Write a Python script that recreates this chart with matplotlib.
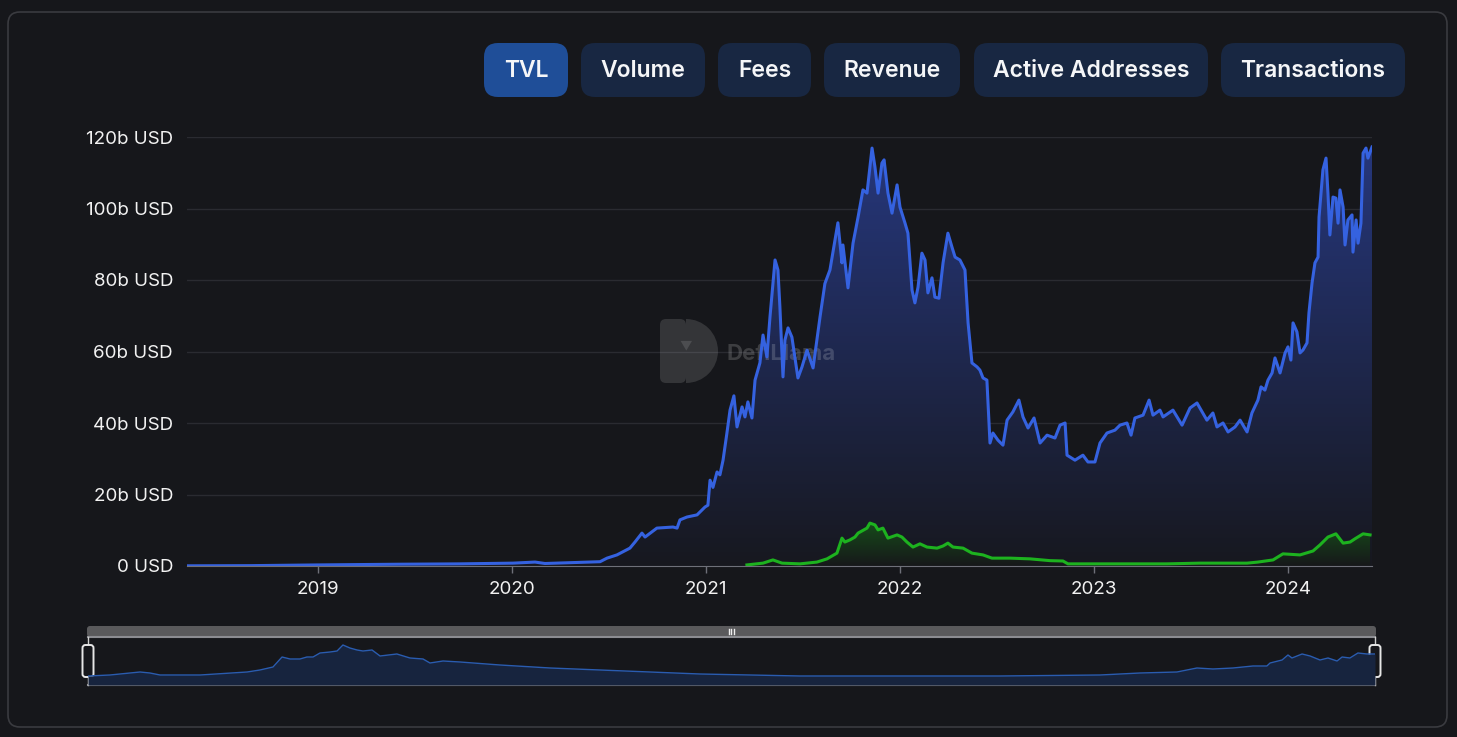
import numpy as np
import matplotlib
matplotlib.use("Agg")
import matplotlib.pyplot as plt
from matplotlib.patches import FancyBboxPatch, Wedge
from matplotlib.colors import to_rgba

plt.rcParams['font.family'] = ['Inter', 'DejaVu Sans']

# ---- data (decimal years, values in billions USD) ----
tvl_t = [2018.325, 2018.649, 2019.000, 2019.423, 2019.732, 2020.005, 2020.119, 2020.170, 2020.351,
         2020.454, 2020.490, 2020.541, 2020.608, 2020.634, 2020.670, 2020.686, 2020.747, 2020.830,
         2020.851, 2020.866, 2020.902, 2020.954, 2020.995, 2021.010, 2021.021, 2021.036, 2021.057,
         2021.072, 2021.088, 2021.108, 2021.124, 2021.144, 2021.160, 2021.186, 2021.201, 2021.216,
         2021.237, 2021.253, 2021.278, 2021.294, 2021.314, 2021.330, 2021.356, 2021.371, 2021.381,
         2021.397, 2021.407, 2021.423, 2021.443, 2021.474, 2021.495, 2021.521, 2021.552, 2021.588,
         2021.613, 2021.639, 2021.680, 2021.701, 2021.706, 2021.732, 2021.758, 2021.784, 2021.809,
         2021.830, 2021.856, 2021.871, 2021.887, 2021.907, 2021.918, 2021.938, 2021.959, 2021.985,
         2022.000, 2022.026, 2022.041, 2022.062, 2022.077, 2022.093, 2022.113, 2022.129, 2022.144,
         2022.165, 2022.180, 2022.201, 2022.222, 2022.247, 2022.268, 2022.284, 2022.309, 2022.335,
         2022.351, 2022.371, 2022.397, 2022.412, 2022.428, 2022.448, 2022.464, 2022.479, 2022.505,
         2022.531, 2022.552, 2022.582, 2022.613, 2022.634, 2022.660, 2022.691, 2022.722, 2022.758,
         2022.799, 2022.825, 2022.851, 2022.861, 2022.902, 2022.943, 2022.969, 2023.005, 2023.031,
         2023.067, 2023.108, 2023.134, 2023.170, 2023.191, 2023.211, 2023.253, 2023.284, 2023.304,
         2023.340, 2023.356, 2023.407, 2023.454, 2023.495, 2023.531, 2023.582, 2023.613, 2023.634,
         2023.665, 2023.691, 2023.727, 2023.753, 2023.789, 2023.814, 2023.845, 2023.861, 2023.881,
         2023.897, 2023.918, 2023.933, 2023.959, 2023.985, 2024.000, 2024.015, 2024.026, 2024.046,
         2024.062, 2024.077, 2024.098, 2024.108, 2024.124, 2024.139, 2024.155, 2024.160, 2024.180,
         2024.196, 2024.206, 2024.216, 2024.232, 2024.247, 2024.258, 2024.268, 2024.284, 2024.294,
         2024.309, 2024.330, 2024.335, 2024.351, 2024.361, 2024.376, 2024.387, 2024.402, 2024.412,
         2024.433]
tvl_v = [0.05, 0.1, 0.3, 0.5, 0.6, 0.8, 1.1, 0.7, 1.0,
         1.2, 2.2, 3.1, 5.0, 6.7, 9.2, 8.1, 10.6, 10.9,
         10.6, 12.9, 13.7, 14.3, 16.5, 17.0, 24.0, 22.0, 26.3,
         25.5, 29.6, 37.2, 43.6, 47.6, 38.9, 44.5, 41.7, 45.9,
         41.4, 52.0, 56.8, 64.6, 58.5, 69.7, 85.6, 82.8, 72.5,
         52.9, 63.2, 66.6, 64.0, 52.6, 55.7, 60.4, 55.4, 69.7,
         79.0, 82.8, 96.0, 84.8, 89.8, 77.8, 90.3, 97.6, 105.2,
         104.3, 116.9, 111.6, 104.3, 112.7, 113.6, 104.3, 98.7, 106.6,
         100.4, 95.9, 93.1, 77.2, 73.6, 78.0, 87.5, 85.6, 76.4,
         80.6, 75.2, 74.9, 84.8, 93.1, 89.2, 86.4, 85.6, 82.8,
         68.0, 56.8, 55.7, 54.8, 52.6, 52.0, 34.4, 37.2, 35.2,
         33.8, 40.8, 43.1, 46.4, 41.7, 38.6, 41.4, 34.4, 36.6,
         35.8, 39.4, 40.0, 31.0, 29.6, 31.0, 29.1, 29.1, 34.4,
         37.2, 38.0, 39.4, 40.0, 36.6, 41.4, 42.2, 46.4, 42.2,
         43.6, 41.7, 43.6, 39.4, 44.2, 45.6, 40.8, 42.8, 38.9,
         40.0, 37.5, 38.9, 40.8, 37.5, 42.8, 46.4, 50.1, 49.2,
         52.0, 54.0, 58.2, 54.0, 59.6, 61.3, 57.6, 68.0, 65.5,
         59.6, 60.4, 62.4, 70.8, 79.2, 84.8, 86.4, 97.6, 110.8,
         114.1, 104.3, 92.6, 103.2, 102.9, 95.9, 105.2, 100.4, 89.8,
         96.8, 98.2, 87.8, 96.8, 90.3, 95.9, 115.5, 116.9, 114.1,
         117.2]

second_t = [2021.211, 2021.294, 2021.345, 2021.392, 2021.485, 2021.572, 2021.624, 2021.675, 2021.701,
            2021.716, 2021.742, 2021.768, 2021.784, 2021.830, 2021.845, 2021.871, 2021.887, 2021.912,
            2021.938, 2021.985, 2022.010, 2022.036, 2022.067, 2022.103, 2022.139, 2022.191, 2022.222,
            2022.247, 2022.273, 2022.325, 2022.371, 2022.428, 2022.474, 2022.567, 2022.670, 2022.773,
            2022.840, 2022.866, 2023.031, 2023.376, 2023.546, 2023.789, 2023.845, 2023.923, 2023.974,
            2024.062, 2024.129, 2024.165, 2024.206, 2024.247, 2024.284, 2024.320, 2024.345, 2024.387,
            2024.423]
second_v = [0.3, 0.8, 1.7, 0.8, 0.6, 1.1, 2.0, 3.6, 7.8,
            6.7, 7.3, 8.1, 9.2, 10.6, 12.0, 11.5, 10.1, 10.6,
            7.8, 8.7, 8.1, 6.7, 5.3, 6.2, 5.3, 5.0, 5.6,
            6.4, 5.3, 5.0, 3.6, 3.1, 2.2, 2.2, 2.0, 1.5,
            1.4, 0.6, 0.6, 0.6, 0.8, 0.8, 1.1, 1.7, 3.4,
            3.1, 4.2, 5.9, 8.1, 9.0, 6.4, 6.7, 7.6, 9.0,
            8.7]

overview_t = [2018.325, 2018.429, 2018.572, 2018.619, 2018.667, 2018.857, 2019.080, 2019.141, 2019.203,
              2019.246, 2019.284, 2019.331, 2019.364, 2019.393, 2019.426, 2019.474, 2019.507, 2019.535,
              2019.568, 2019.602, 2019.630, 2019.673, 2019.711, 2019.791, 2019.853, 2019.915, 2019.948,
              2020.010, 2020.091, 2020.280, 2020.518, 2020.755, 2020.992, 2021.229, 2021.467, 2021.704,
              2022.179, 2022.653, 2023.128, 2023.318, 2023.493, 2023.588, 2023.664, 2023.759, 2023.854,
              2023.920, 2023.935, 2023.992, 2024.020, 2024.039, 2024.087, 2024.125, 2024.172, 2024.210,
              2024.253, 2024.277, 2024.314, 2024.352, 2024.395, 2024.433]
overview_v = [9, 10, 13, 12, 10, 10, 13, 15, 18,
              28, 26, 26, 28, 28, 32, 33, 34, 40,
              37, 35, 34, 35, 29, 31, 27, 26, 22,
              24, 23, 20, 17, 15, 13, 11, 10, 9,
              9, 9, 10, 12, 13, 17, 16, 17, 19,
              19, 22, 25, 30, 27, 31, 29, 25, 27,
              24, 28, 27, 32, 31, 31]

year_ticks = [2019, 2020, 2021, 2022, 2023, 2024]
y_ticks = [0, 20, 40, 60, 80, 100, 120]
y_labels = ['0 USD', '20b USD', '40b USD', '60b USD', '80b USD', '100b USD', '120b USD']
buttons = ['TVL', 'Volume', 'Fees', 'Revenue', 'Active Addresses', 'Transactions']

# ---- layout ----
W, H = 1457, 737
BG = '#16171b'
button_x = [(484, 568), (581, 705), (718, 811), (824, 960), (974, 1208), (1221, 1405)]

fig = plt.figure(figsize=(W / 100, H / 100), dpi=100)
fig.patch.set_facecolor(BG)

# background decorations in pixel coords
deco = fig.add_axes([0, 0, 1, 1])
deco.set_xlim(0, W)
deco.set_ylim(H, 0)
deco.axis('off')
deco.add_patch(FancyBboxPatch((8, 12), 1439, 715, boxstyle='round,pad=0,rounding_size=12',
                              fc=BG, ec='#3a3b40', lw=1.2))
for i, (name, (x0, x1)) in enumerate(zip(buttons, button_x)):
    fc = '#1f4e98' if i == 0 else '#182742'
    deco.add_patch(FancyBboxPatch((x0, 43), x1 - x0, 54, boxstyle='round,pad=0,rounding_size=14',
                                  fc=fc, ec='none'))
    deco.text((x0 + x1) / 2, 71, name, color='#f5f6f8', fontsize=16.5, fontweight='semibold',
              ha='center', va='center')

# main chart
ax = fig.add_axes([187 / W, 1 - 566 / H, 1185 / W, 429 / H])
ax.set_facecolor('none')


def gradient_fill(ax, t, v, c_top, c_bottom, vtop, z):
    poly = ax.fill_between(t, v, 0, color='none', lw=0)
    top = np.array(to_rgba(c_top))
    bot = np.array(to_rgba(c_bottom))
    k = np.linspace(0, 1, 256)[:, None]
    img = (bot + (top - bot) * k)[:, None, :]
    im = ax.imshow(img, extent=[min(t), max(t), 0, vtop], origin='lower', aspect='auto',
                   zorder=z, interpolation='bilinear')
    im.set_clip_path(poly.get_paths()[0], transform=ax.transData)


gradient_fill(ax, tvl_t, tvl_v, '#26377c', '#17181f', max(tvl_v), 1)
gradient_fill(ax, second_t, second_v, '#174a1a', '#16181a', max(second_v), 2)

# watermark (above the fills, below the lines)
wm = deco.transData
ax.add_patch(FancyBboxPatch((660, 319), 26, 64, boxstyle='round,pad=0,rounding_size=6',
                            fc=(1, 1, 1, 0.13), ec='none', transform=wm, clip_on=False, zorder=2.5))
ax.add_patch(Wedge((686, 351), 32, -90, 90, fc=(1, 1, 1, 0.13), ec='none',
                   transform=wm, clip_on=False, zorder=2.5))
ax.text(686, 346, '\u25bc', color=(1, 1, 1, 0.12), fontsize=9, ha='center', va='center',
        transform=wm, zorder=2.6)
ax.text(727, 354, 'DefiLlama', color=(1, 1, 1, 0.17), fontsize=16, fontweight='bold',
        ha='left', va='center', transform=wm, zorder=2.6)

ax.plot(tvl_t, tvl_v, color='#3562e0', lw=2.2, zorder=3, solid_joinstyle='round')
ax.plot(second_t, second_v, color='#1db21f', lw=2.2, zorder=4, solid_joinstyle='round')
ax.set_xlim(2018.325, 2024.433)
ax.set_ylim(0, 120)

ax.set_yticks(y_ticks)
ax.set_yticklabels(y_labels)
ax.set_xticks(year_ticks)
ax.set_xticklabels([str(y) for y in year_ticks])
ax.grid(axis='y', color='#2a2b31', lw=1)
ax.set_axisbelow(True)
for s in ['top', 'right', 'left']:
    ax.spines[s].set_visible(False)
ax.spines['bottom'].set_color('#6e7079')
ax.spines['bottom'].set_zorder(5)
ax.tick_params(axis='y', length=0, pad=10, labelsize=13.5, labelcolor='#f2f2f2')
ax.tick_params(axis='x', length=5, width=1, color='#6e7079', pad=6, labelsize=13.5, labelcolor='#f2f2f2')

# overview slider
mini = fig.add_axes([88 / W, 1 - 685 / H, 1287 / W, 48 / H])
mini.set_facecolor('none')
mini.fill_between(overview_t, overview_v, 0, color='#17243e', lw=0)
mini.plot(overview_t, overview_v, color='#2a5cb0', lw=1)
mini.set_xlim(2018.325, 2024.433)
mini.set_ylim(0, 48)
mini.axis('off')

deco.add_patch(FancyBboxPatch((87, 626), 1289, 11, boxstyle='round,pad=0,rounding_size=3',
                              fc='#5a5a5c', ec='none'))
deco.plot([88, 1375], [637, 637], color='#8c8d92', lw=1.5)
deco.plot([88, 1375], [685, 685], color='#8c8d92', lw=1.5)
for xx in (728.5, 731, 733.5):
    deco.plot([xx, xx], [629, 634], color='#eeeeee', lw=1)
for hx in (88, 1375):
    deco.plot([hx, hx], [637, 685], color='#d0d0d0', lw=1, zorder=5)
    deco.add_patch(FancyBboxPatch((hx - 5.5, 645), 11, 32, boxstyle='round,pad=0,rounding_size=3',
                                  fc=BG, ec='#e6e6e6', lw=1.4, zorder=6))
deco.set_xlim(0, W)
deco.set_ylim(H, 0)

fig.savefig('out.png', dpi=100, facecolor=fig.get_facecolor())
